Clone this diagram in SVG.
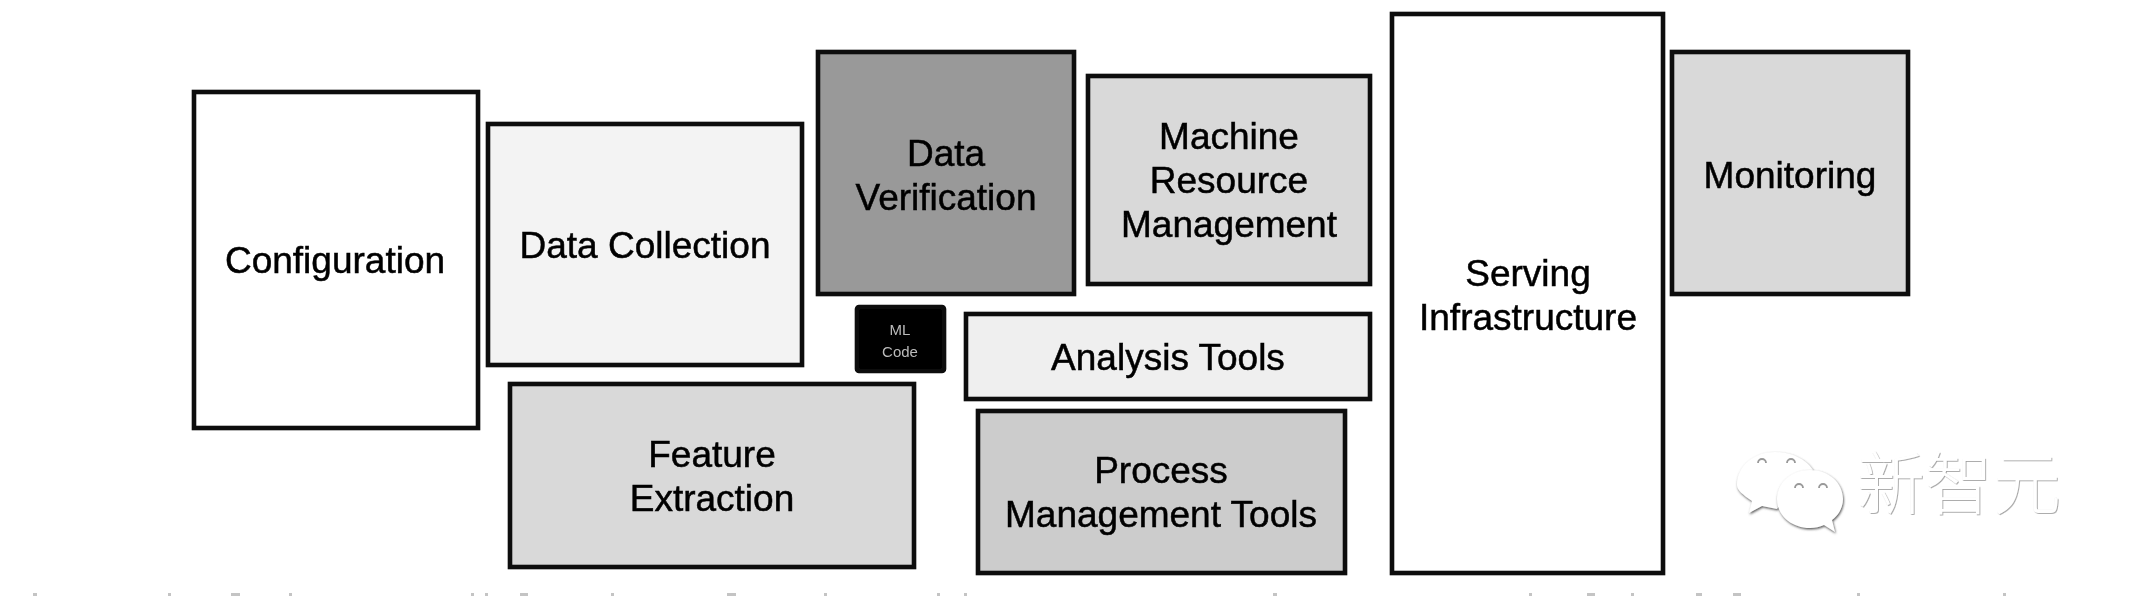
<svg xmlns="http://www.w3.org/2000/svg" width="2132" height="596" viewBox="0 0 2132 596">
<style>
.b rect{stroke:#111;stroke-width:4.6}
.b text{font-family:"Liberation Sans",Arial,sans-serif;font-size:37px;fill:#000;stroke:#000;stroke-width:.5;text-anchor:middle}
.b .s{font-size:15px;fill:#bbb;stroke:none}
.wm{font-family:"Noto Sans CJK SC",sans-serif;font-weight:200;font-size:68px;fill:#fff;filter:url(#emb)}
.ic{fill:#fff;filter:url(#emb2)}
.dot{fill:none;stroke:#999;stroke-width:1.8}
.m rect{fill:#c4c4c4;y:593px;height:3px}
</style>
<defs>
<filter id="soft" x="-2%" y="-2%" width="104%" height="104%"><feGaussianBlur stdDeviation="0.65"/></filter>
<filter id="emb" x="-5%" y="-5%" width="110%" height="110%"><feDropShadow dx="0.8" dy="0.8" stdDeviation="0.5" flood-color="#999"/></filter>
<filter id="emb2" x="-10%" y="-10%" width="120%" height="120%"><feDropShadow dx="0.8" dy="1.4" stdDeviation="0.8" flood-color="#555"/></filter>
</defs>
<rect width="2132" height="596" fill="#fff"/>
<g id="diagram" filter="url(#soft)" class="b">
<g id="configuration"><rect x="194" y="92" width="284" height="336" fill="#fff"/><text x="335" y="273">Configuration</text></g>
<g id="data-collection"><rect x="488" y="124" width="314" height="241" fill="#f3f3f3"/><text x="645" y="258">Data Collection</text></g>
<g id="data-verification"><rect x="818" y="52" width="256" height="242" fill="#999"/><text x="946" y="166">Data</text><text x="946" y="210">Verification</text></g>
<g id="machine-resource-management"><rect x="1088" y="76" width="282" height="208" fill="#d9d9d9"/><text x="1229" y="149">Machine</text><text x="1229" y="193">Resource</text><text x="1229" y="237">Management</text></g>
<g id="ml-code"><rect x="857" y="307" width="87" height="64" rx="2" fill="#000" stroke="#000"/><text class="s" x="900" y="335">ML</text><text class="s" x="900" y="357">Code</text></g>
<g id="analysis-tools"><rect x="966" y="314" width="404" height="85" fill="#efefef"/><text x="1168" y="370">Analysis Tools</text></g>
<g id="feature-extraction"><rect x="510" y="384" width="404" height="183" fill="#d9d9d9"/><text x="712" y="467">Feature</text><text x="712" y="511">Extraction</text></g>
<g id="process-management-tools"><rect x="978" y="411" width="367" height="162" fill="#ccc"/><text x="1161" y="483">Process</text><text x="1161" y="527">Management Tools</text></g>
<g id="serving-infrastructure"><rect x="1392" y="14" width="271" height="559" fill="#fff"/><text x="1528" y="286">Serving</text><text x="1528" y="330">Infrastructure</text></g>
<g id="monitoring"><rect x="1672" y="52" width="236" height="242" fill="#d9d9d9"/><text x="1790" y="188">Monitoring</text></g>
</g>
<g id="connectors"></g>
<g id="watermark">
<path class="ic" d="M1737 485C1737 465 1755 452 1775 452C1795 452 1808 462 1813 470L1790 490L1777 509L1762 506L1749 513L1752 501C1743 495 1737 490 1737 485Z"/>
<path class="ic" d="M1810 470C1791 470 1777 483 1777 499C1777 516 1792 528 1810 528C1815 528 1820 527 1824 525L1835 532L1832 520C1839 515 1843 507 1843 499C1843 483 1829 470 1810 470Z"/>
<path class="dot" d="M1758 463a4 4 0 0 1 8 0M1787 463a4 4 0 0 1 8 0M1795 488a4 4 0 0 1 8 0M1819 488a4 4 0 0 1 8 0"/>
<text class="wm" x="1857" y="509">新智元</text>
</g>
<g id="caption-fragments" class="m" filter="url(#soft)">
<rect x="33" width="4"/><rect x="168" width="3"/><rect x="231" width="9"/><rect x="289" width="3"/><rect x="471" width="3"/><rect x="485" width="3"/><rect x="520" width="8"/><rect x="611" width="3"/><rect x="727" width="9"/><rect x="824" width="3"/><rect x="937" width="3"/><rect x="964" width="3"/><rect x="1273" width="4"/><rect x="1529" width="3"/><rect x="1587" width="8"/><rect x="1631" width="3"/><rect x="1696" width="6"/><rect x="1733" width="8"/><rect x="1857" width="3"/><rect x="2003" width="3"/>
</g>
</svg>
